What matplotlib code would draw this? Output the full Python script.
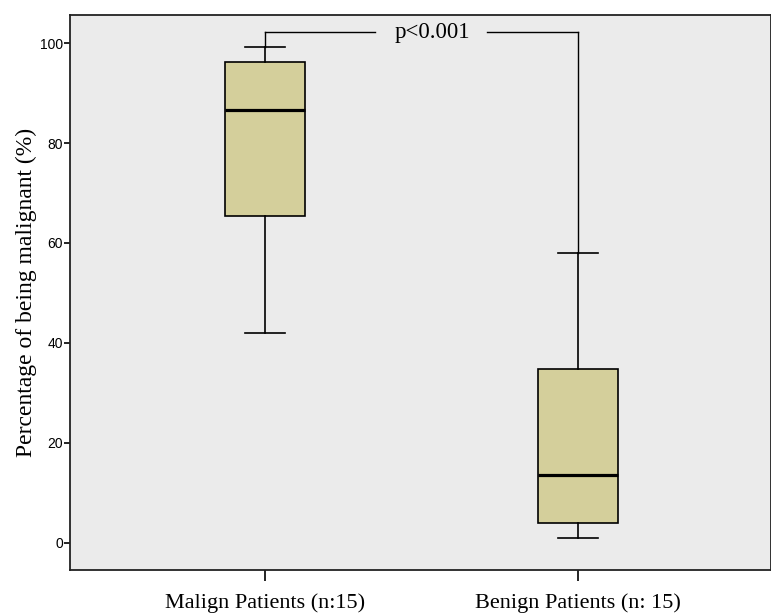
import matplotlib.pyplot as plt

groups = ["Malign Patients (n:15)", "Benign Patients (n: 15)"]
whislo = [42, 1]
q1 = [65.3, 4]
med = [86.6, 13.6]
q3 = [96.2, 34.8]
whishi = [99.2, 58]
p_text = "p<0.001"

serif = "Liberation Serif"
sans = "Liberation Sans"
box_color = "#d4cf9b"

fig = plt.figure(figsize=(7.71, 6.15), dpi=100)
ax = fig.add_axes([0.0908, 0.0732, 0.9092, 0.9024])
ax.set_facecolor("#ebebeb")

stats = []
for i, name in enumerate(groups):
    stats.append(dict(label=name, whislo=whislo[i], q1=q1[i], med=med[i],
                      q3=q3[i], whishi=whishi[i], fliers=[]))

pos = [1, 2]
ax.bxp(stats, positions=pos, widths=0.256, patch_artist=True,
       showfliers=False,
       boxprops=dict(facecolor=box_color, edgecolor="black", linewidth=1.2),
       medianprops=dict(color="black", linewidth=2.3),
       whiskerprops=dict(color="black", linewidth=1.2),
       capprops=dict(color="black", linewidth=1.2),
       capwidths=0.128)

# significance bracket
ybr = 102.2
ax.plot([pos[0], pos[0]], [whishi[0], ybr], color="black", lw=1)
ax.plot([pos[1], pos[1]], [whishi[1], ybr], color="black", lw=1)
ax.plot([pos[0], 1.35], [ybr, ybr], color="black", lw=1)
ax.plot([1.71, pos[1]], [ybr, ybr], color="black", lw=1)
ax.text(1.535, ybr, p_text, ha="center", va="center", fontsize=16.5,
        family=serif)

ax.set_xlim(0.377, 2.617)
ax.set_ylim(-5.4, 105.6)
ax.set_yticks([0, 20, 40, 60, 80, 100])
ax.set_xticks(pos)
ax.set_xticklabels(groups, family=serif, fontsize=16)
for lab in ax.get_yticklabels():
    lab.set_family(sans)
    lab.set_fontsize(10)
ax.tick_params(axis="x", length=8, width=1.2, pad=9)
ax.tick_params(axis="y", length=4, width=1.2, pad=1)
ax.set_ylabel("Percentage of being malignant (%)", family=serif, fontsize=17,
              labelpad=2)
for s in ax.spines.values():
    s.set_linewidth(1.3)
    s.set_color("#222222")

fig.savefig("out.png", dpi=100)
